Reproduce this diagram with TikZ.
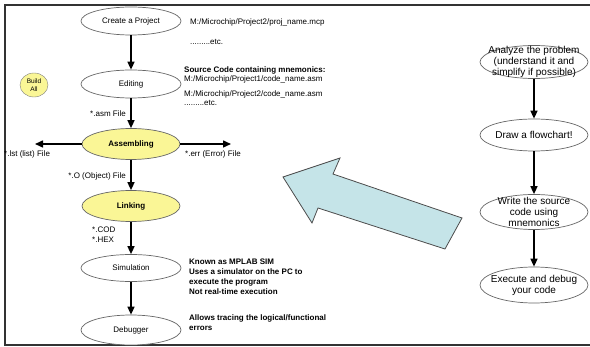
\documentclass[tikz,border=0pt]{standalone}
\usepackage{fontspec}
\setmainfont{Liberation Sans}
\usetikzlibrary{arrows.meta,shapes.geometric}
\definecolor{buildyellow}{RGB}{250,246,150}
\definecolor{hintblue}{RGB}{197,228,232}

\begin{document}
\begin{tikzpicture}[x=1pt,y=-1pt,
    stage/.style={ellipse,draw=black!60,line width=0.7pt,fill=white,inner sep=0pt,
      minimum width=100pt,minimum height=28pt,font=\fontsize{8}{10}\selectfont},
    hot/.style={stage,fill=buildyellow,font=\fontsize{8}{10}\selectfont\bfseries},
    task/.style={stage,minimum width=108pt},
    flow/.style={-{Triangle[length=8pt,width=7pt]},line width=1.5pt},
    note/.style={anchor=west,inner sep=0pt,align=left,font=\fontsize{8}{10}\selectfont},
    bnote/.style={note,font=\fontsize{8}{10}\selectfont\bfseries},
    tasktext/.style={inner sep=0pt,align=center,font=\fontsize{10}{11}\selectfont}]
  \useasboundingbox (0,0) rectangle (590,347);
  % frame
  \draw[black!80,line width=1.3pt] (590,5) -- (5,5) -- (5,345) -- (590,345);

  % build flow (left)
  \node[stage] (create) at (131,21) {Create a Project};
  \node[stage] (edit) at (131,84) {Editing};
  \node[hot,minimum width=98pt,minimum height=31pt] (assemble) at (131,144) {Assembling};
  \node[hot,minimum width=98pt,minimum height=31pt] (link) at (131,206) {Linking};
  \node[stage,minimum height=27pt] (simulate) at (131,268) {Simulation};
  \node[stage,minimum height=30pt] (debug) at (131,330) {Debugger};
  \node[ellipse,draw=black!50,fill=buildyellow,inner sep=0pt,minimum width=28pt,
    minimum height=24pt,align=center,font=\fontsize{6.5}{7.5}\selectfont] (build) at (34,85) {Build\\All};

  \coordinate (lstEnd) at (35,144);
  \coordinate (errEnd) at (231,144);

  \draw[flow] (create) -- (edit);
  \draw[flow] (edit) -- (assemble);
  \draw[flow] (assemble) -- (link);
  \draw[flow] (link) -- (simulate);
  \draw[flow] (simulate) -- (debug);
  \draw[flow] (assemble) -- (lstEnd);
  \draw[flow] (assemble) -- (errEnd);

  % file names
  \node[note,anchor=east] (asmFile) at (126,114) {*.asm File};
  \node[note] (lstFile) at (4,154) {*.lst (list) File};
  \node[note] (errFile) at (185,154) {*.err (Error) File};
  \node[note,anchor=east] (objFile) at (126,176) {*.O (Object) File};
  \node[note] (hexFile) at (92,235) {*.COD\\*.HEX};

  % notes
  \node[note] (projPath) at (190,22) {M:/Microchip/Project2/proj\_name.mcp};
  \node[note] (projEtc) at (190,42) {.........etc.};
  \node[bnote] (srcHead) at (184,70) {Source Code containing mnemonics:};
  \node[note] (srcPath1) at (184,79.5) {M:/Microchip/Project1/code\_name.asm};
  \node[note] (srcPath2) at (184,94.5) {M:/Microchip/Project2/code\_name.asm};
  \node[note] (srcEtc) at (184,102.5) {.........etc.};
  \node[bnote] (simNote) at (189,277) {Known as MPLAB SIM\\Uses a simulator on the PC to\\execute the program\\Not real-time execution};
  \node[bnote] (dbgNote) at (189,323) {Allows tracing the logical/functional\\errors};

  % hint arrow
  \draw[fill=hintblue,draw=black!70,line width=0.8pt] (283,177) -- (340,158) -- (333,174)
    -- (462,218) -- (445,249) -- (318,208) -- (312,223) -- cycle;

  % steps (right)
  \node[task,minimum height=33pt] (analyze) at (534,62) {};
  \node[task,minimum height=32pt] (chart) at (534,135) {};
  \node[task,minimum height=35pt] (write) at (534,212) {};
  \node[task,minimum height=36pt] (execute) at (534,285) {};
  \node[tasktext] (analyzeText) at (analyze) {Analyze the problem\\(understand it and\\simplify if possible)};
  \node[tasktext] (chartText) at (chart) {Draw a flowchart!};
  \node[tasktext] (writeText) at (write) {Write the source\\code using\\mnemonics};
  \node[tasktext] (executeText) at (execute) {Execute and debug\\your code};

  \draw[flow] (analyze) -- (chart);
  \draw[flow] (chart) -- (write);
  \draw[flow] (write) -- (execute);
\end{tikzpicture}
\end{document}
